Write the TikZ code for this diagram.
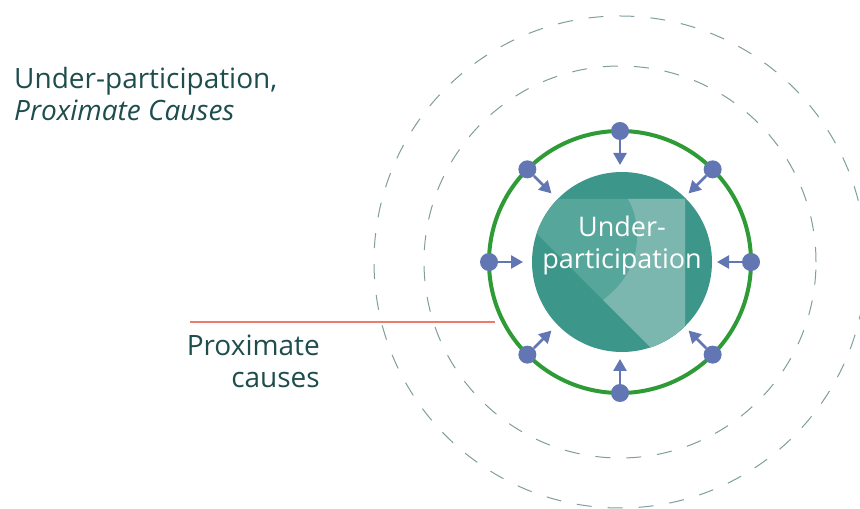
\documentclass[tikz,border=0pt]{standalone}
\usepackage{fontspec}
\setmainfont{Open Sans}
\usetikzlibrary{arrows.meta}

\definecolor{darkteal}{HTML}{1E4D4D}
\definecolor{discteal}{HTML}{3D968A}
\definecolor{midteal}{HTML}{56A69B}
\definecolor{paleteal}{HTML}{7BB7AE}
\definecolor{dotblue}{HTML}{6176B2}
\definecolor{ringgreen}{HTML}{2F9B37}
\definecolor{dashgrey}{HTML}{7F9E9C}
\definecolor{causered}{HTML}{EC7B69}

\tikzset{
  dashring/.style={draw=dashgrey, line width=1pt, dash pattern=on 15pt off 16pt},
  pin/.style={circle, fill=dotblue, inner sep=0pt, minimum size=18pt},
  push/.style={draw=dotblue, line width=2.5pt, -{Triangle[length=12pt,width=13pt]}},
  caption/.style={text=darkteal, inner sep=0pt}
}

\begin{document}
\begin{tikzpicture}[x=1pt,y=1pt]
\useasboundingbox (0,0) rectangle (860,509);
\coordinate (c) at (620,247);

% dashed rings
\draw[dashring] (c) circle (246pt);
\draw[dashring] (c) circle (196pt);

% the disc
\fill[discteal] (622,247) circle (90pt);
\begin{scope}
\clip (622,247) circle (90pt);
\fill[midteal] (510,302) -- (685,127) -- (685,310) -- (510,310) -- cycle;
\fill[paleteal] (628,310) .. controls (638,294) and (650,244) .. (603,209) -- (685,127) -- (685,310) -- cycle;
\end{scope}
\node[text=white, inner sep=0pt, align=center, anchor=base, font=\fontsize{27}{32}\selectfont] (core) at (622,240) {Under-\\participation};

% proximate ring
\draw[ringgreen, line width=4pt] (c) circle (131pt);
\foreach \a in {0,45,...,315}{
  \path (c) ++(\a:131pt) node[pin] (d\a) {};
  \path (c) ++(\a:97pt) coordinate (t\a);
  \draw[push] (d\a) -- (t\a);
}

% labels
\coordinate (tail) at (190,187);
\coordinate (cut) at (495,187);
\draw[causered, line width=1.5pt] (tail) -- (cut);
\node[caption, anchor=base east, align=right, font=\fontsize{28}{32}\selectfont] (prox) at (320,121) {Proximate\\causes};
\node[caption, anchor=base west, align=left, font=\fontsize{28}{32}\selectfont] (title) at (14,388) {Under-participation,\\\textit{Proximate Causes}};
\end{tikzpicture}
\end{document}
